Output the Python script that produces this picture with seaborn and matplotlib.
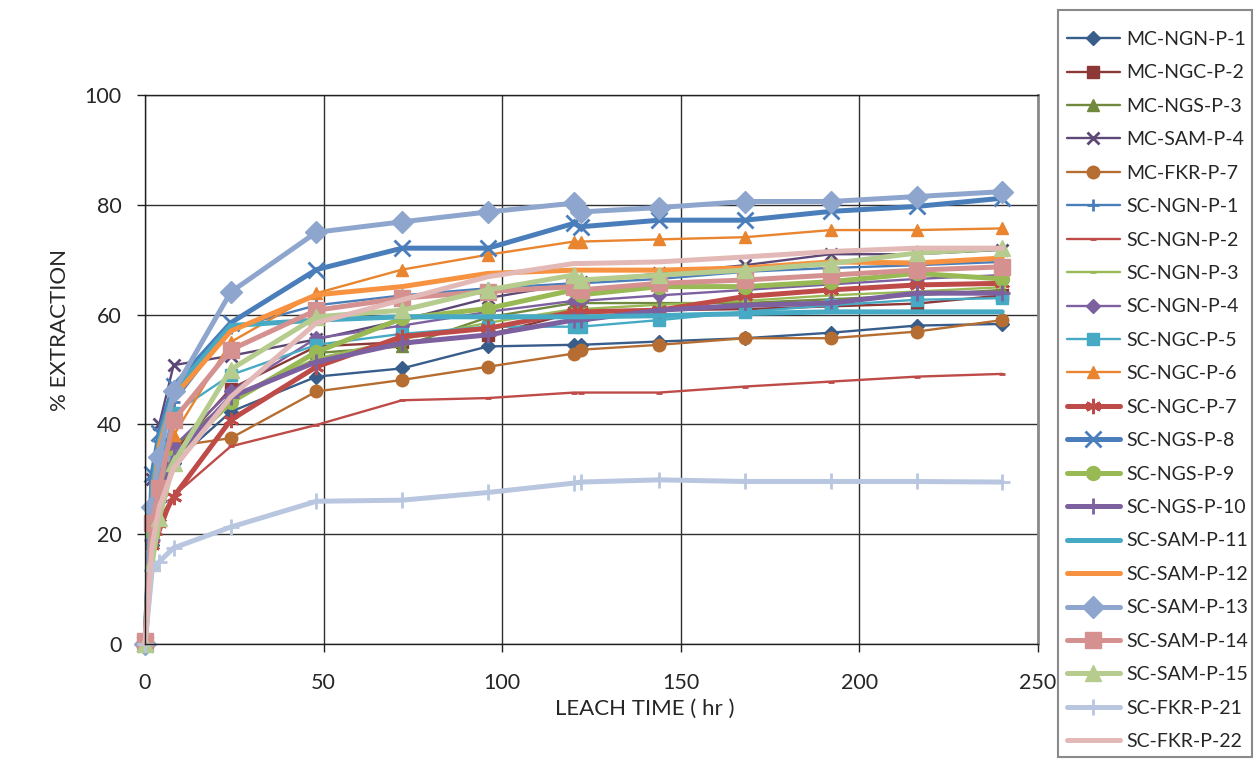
import matplotlib
matplotlib.use("Agg")
import matplotlib.pyplot as plt
from matplotlib.patches import Rectangle
import seaborn as sns
import pandas as pd

sns.set_theme(style="white")
plt.rcParams['font.family'] = ['Lato', 'DejaVu Sans']

# ---------------- data ----------------
times = [0, 2, 4, 8, 24, 48, 72, 96, 120, 122, 144, 168, 192, 216, 240]

series_names = ["MC-NGN-P-1", "MC-NGC-P-2", "MC-NGS-P-3", "MC-SAM-P-4", "MC-FKR-P-7",
                "SC-NGN-P-1", "SC-NGN-P-2", "SC-NGN-P-3", "SC-NGN-P-4", "SC-NGC-P-5",
                "SC-NGC-P-6", "SC-NGC-P-7", "SC-NGS-P-8", "SC-NGS-P-9", "SC-NGS-P-10",
                "SC-SAM-P-11", "SC-SAM-P-12", "SC-SAM-P-13", "SC-SAM-P-14", "SC-SAM-P-15",
                "SC-FKR-P-21", "SC-FKR-P-22"]

mc_ngn_p_1 = [0, 18, 26, 33, 42.3, 48.7, 50.2, 54.2, 54.5, 54.5, 55.1, 55.7, 56.7, 58.0, 58.3]
mc_ngc_p_2 = [0, 20, 27, 35, 46.5, 54.2, 55.0, 56.3, 60.3, 60.5, 60.8, 61.0, 61.5, 62.0, 63.5]
mc_ngs_p_3 = [0, 19, 27, 36, 44.5, 53.0, 54.2, 59.5, 62.1, 62.1, 62.1, 62.1, 62.8, 63.5, 64.5]
mc_sam_p_4 = [0, 30, 40, 50.8, 52.5, 55.5, 59.0, 63.0, 65.7, 66.0, 67.5, 69.0, 71.0, 71.0, 71.8]
mc_fkr_p_7 = [0, 22, 30, 36, 37.5, 46.0, 48.1, 50.5, 52.9, 53.6, 54.5, 55.7, 55.7, 56.9, 59.0]
sc_ngn_p_1 = [0, 30, 37, 44, 57.5, 61.7, 63.5, 64.8, 65.7, 65.7, 66.5, 67.8, 68.5, 69.0, 69.6]
sc_ngn_p_2 = [0, 15, 20, 27, 36.0, 39.9, 44.4, 44.8, 45.8, 45.8, 45.8, 46.9, 47.8, 48.7, 49.2]
sc_ngn_p_3 = [0, 18, 25, 34, 45.0, 52.0, 55.5, 58.5, 61.0, 61.0, 61.8, 62.5, 63.5, 64.2, 65.0]
sc_ngn_p_4 = [0, 20, 28, 36, 46.0, 55.7, 58.0, 60.5, 62.5, 62.5, 63.5, 64.5, 65.5, 66.5, 67.2]
sc_ngc_p_5 = [0, 24, 32, 42, 49.0, 54.5, 56.5, 57.8, 57.8, 57.8, 59.0, 60.5, 61.7, 62.7, 63.0]
sc_ngc_p_6 = [0, 24, 30, 38, 55.0, 63.9, 68.2, 70.9, 73.3, 73.3, 73.7, 74.1, 75.4, 75.4, 75.7]
sc_ngc_p_7 = [0, 18, 22, 26.8, 40.8, 50.5, 56.0, 57.5, 60.5, 60.5, 60.8, 63.3, 64.5, 65.4, 65.7]
sc_ngs_p_8 = [0, 31, 38.5, 47, 58.5, 68.2, 72.1, 72.1, 76.6, 76.0, 77.2, 77.2, 78.8, 79.7, 81.2]
sc_ngs_p_9 = [0, 20, 27, 34, 44, 53.2, 59.3, 61.1, 64.5, 63.6, 65.1, 65.1, 66.0, 67.5, 66.5]
sc_ngs_p_10 = [0, 19, 26, 34, 45, 51.4, 54.8, 56.3, 59.0, 59.0, 60.8, 61.7, 62.1, 63.9, 63.9]
sc_sam_p_11 = [0, 28, 37, 46, 58, 59.0, 59.6, 59.6, 59.6, 59.6, 59.8, 60.2, 60.5, 60.5, 60.5]
sc_sam_p_12 = [0, 25, 36, 45, 57, 63.6, 65.1, 67.5, 68.1, 68.1, 68.1, 68.5, 69.6, 69.4, 70.3]
sc_sam_p_13 = [0, 25, 34, 46, 64.1, 75.0, 76.9, 78.7, 80.3, 78.7, 79.5, 80.6, 80.6, 81.5, 82.4]
sc_sam_p_14 = [0.5, 22, 28.4, 40.8, 53.6, 60.8, 63.0, 64.2, 65.1, 64.5, 65.7, 66.3, 67.2, 68.1, 68.7]
sc_sam_p_15 = [0, 14.7, 23, 33, 50.0, 59.6, 60.8, 64.5, 67.2, 66.3, 67.2, 68.1, 69.3, 71.2, 72.1]
sc_fkr_p_21 = [0, 13.5, 15, 17.5, 21.3, 26.0, 26.2, 27.6, 29.3, 29.5, 29.9, 29.6, 29.6, 29.6, 29.5]
sc_fkr_p_22 = [0, 18, 25, 32, 45, 58.5, 62.7, 66.9, 69.3, 69.3, 69.6, 70.5, 71.5, 72.1, 72.1]

values = [mc_ngn_p_1, mc_ngc_p_2, mc_ngs_p_3, mc_sam_p_4, mc_fkr_p_7,
          sc_ngn_p_1, sc_ngn_p_2, sc_ngn_p_3, sc_ngn_p_4, sc_ngc_p_5,
          sc_ngc_p_6, sc_ngc_p_7, sc_ngs_p_8, sc_ngs_p_9, sc_ngs_p_10,
          sc_sam_p_11, sc_sam_p_12, sc_sam_p_13, sc_sam_p_14, sc_sam_p_15,
          sc_fkr_p_21, sc_fkr_p_22]

x_ticks = [0, 50, 100, 150, 200, 250]
y_ticks = [0, 20, 40, 60, 80, 100]

# ---------------- styles ----------------
colors = ["#385D8A", "#8C3836", "#71893F", "#5C4776", "#B66D31",
          "#4A7EBB", "#BE4B48", "#98B954", "#7D60A0", "#46AAC5",
          "#E9842F", "#BE4B48", "#4A7EBB", "#98B954", "#7D60A0",
          "#46AAC5", "#F69240", "#8EA6CE", "#D4918F", "#B5CC8E",
          "#B9C6E0", "#E3B9B8"]
markers = ["D", "s", "^", "x", "o",
           "+", "_", "_", "D", "s",
           "^", (6, 2, 0), "x", "o", "+",
           None, None, "D", "s", "^",
           "+", None]
thick = [False] * 11 + [True] * 11
msizes = [7, 8, 8, 9, 9,
          9, 5, 5, 7, 8,
          8, 11, 12, 10, 12,
          0, 0, 11, 12, 12,
          12, 0]

long = pd.DataFrame({
    "series": [n for n, v in zip(series_names, values) for _ in v],
    "time": [t for v in values for t in times],
    "extraction": [e for v in values for e in v],
})

W, H = 1256, 762
fig = plt.figure(figsize=(W / 100, H / 100), dpi=100)
ax = fig.add_axes([145 / W, 1 - 644 / H, (1038 - 145) / W, (644 - 95) / H])

for i, name in enumerate(series_names):
    d = long[long["series"] == name]
    lw = 3.6 if thick[i] else 1.7
    mk = markers[i]
    kw = dict(color=colors[i], lw=lw, label=name, ax=ax)
    if mk is not None:
        kw.update(marker=mk, markersize=msizes[i], markeredgecolor=colors[i],
                  markerfacecolor=colors[i],
                  markeredgewidth=(2.0 if mk in ("x", "+", "_", (6, 2, 0)) else 1.0))
    sns.lineplot(data=d, x="time", y="extraction", **kw)

if ax.get_legend() is not None:
    ax.get_legend().remove()

for ln in ax.lines:
    ln.set_clip_on(False)

ax.set_xlim(0, 250)
ax.set_ylim(0, 100)
ax.set_xticks(x_ticks)
ax.set_yticks(y_ticks)
ax.grid(True, color="#303030", lw=1.0)
ax.set_axisbelow(True)
for s in ["left", "bottom", "top"]:
    ax.spines[s].set_color("#202020")
    ax.spines[s].set_linewidth(1.0)
ax.spines["right"].set_color("#8A8A8A")
ax.spines["right"].set_linewidth(2.0)
ax.tick_params(axis="both", direction="out", length=6, width=1.0, color="#202020",
               labelsize=15.5, bottom=True, left=True)
ax.tick_params(axis="x", pad=15)
ax.tick_params(axis="y", pad=11)
ax.set_xlabel("LEACH TIME ( hr )", fontsize=16)
ax.set_ylabel("% EXTRACTION", fontsize=16)
ax.xaxis.set_label_coords(0.56, -0.100)
ax.yaxis.set_label_coords(-0.084, 0.572)

handles, labels = ax.get_legend_handles_labels()
leg = fig.legend(handles, labels, loc="upper left",
                 bbox_to_anchor=(1067 / W, 1 - 31 / H),
                 frameon=False, fontsize=14, handlelength=2.7, handletextpad=0.35,
                 labelspacing=0.845, borderpad=0, borderaxespad=0)

fig.patches.append(Rectangle((1058 / W, 1 - 757 / H), (1252 - 1058) / W, (757 - 10) / H,
                             transform=fig.transFigure, fill=False,
                             edgecolor="#8A8A8A", lw=1.5))

fig.savefig("out.png", dpi=100)
